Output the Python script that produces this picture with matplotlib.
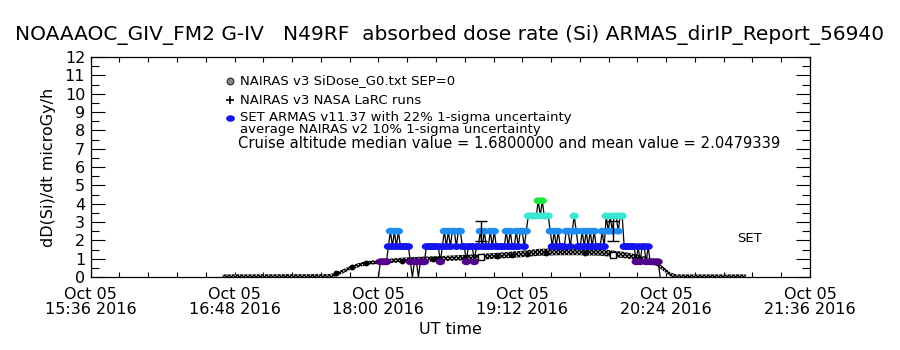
import numpy as np
import matplotlib
matplotlib.use("Agg")
import matplotlib.pyplot as plt
from matplotlib.ticker import MultipleLocator, FixedLocator

# ---------------- data ----------------
title = "NOAAAOC_GIV_FM2 G-IV   N49RF  absorbed dose rate (Si) ARMAS_dirIP_Report_56940"
y_label = "dD(Si)/dt microGy/h"
x_label = "UT time"
x_tick_minutes = [936, 1008, 1080, 1152, 1224, 1296]
x_tick_labels = ["Oct 05\n15:36 2016", "Oct 05\n16:48 2016", "Oct 05\n18:00 2016",
                 "Oct 05\n19:12 2016", "Oct 05\n20:24 2016", "Oct 05\n21:36 2016"]
y_ticks = list(range(0, 13))

# NAIRAS v3 SiDose_G0 model along flight (minutes of day UT, uGy/h)
nairas_minutes = [1002, 1056, 1061, 1066, 1071, 1076, 1082, 1091, 1101, 1111, 1121, 1131,
                  1141, 1151, 1161, 1171, 1181, 1191, 1198.5, 1203, 1208, 1214.5, 1219.5,
                  1222.5, 1226, 1229, 1264]
nairas_dose = [0.03, 0.05, 0.25, 0.5, 0.68, 0.78, 0.85, 0.92, 0.97, 1.0, 1.05, 1.1,
               1.17, 1.25, 1.35, 1.38, 1.38, 1.35, 1.25, 1.2, 1.1, 0.95, 0.7,
               0.45, 0.15, 0.03, 0.03]

# NAIRAS v3 NASA LaRC runs
larc_minutes = [1059, 1067, 1074, 1092, 1107.5, 1109.5, 1123.5, 1139.5, 1147, 1154.5, 1164, 1183.5, 1197.5]
larc_dose = [0.2, 0.55, 0.75, 0.88, 0.96, 0.97, 1.05, 1.15, 1.2, 1.27, 1.33, 1.32, 1.2]

# SET ARMAS quantized dose-rate levels (1-min cadence starting 18:00 UT)
armas_start_minute = 1080
armas_dose_steps = [0.0, 0.83, 1.66, 2.5, 3.33, 4.16]
armas_level = [0, 1, 1, 1, 1, 2, 3, 2, 3, 2,
               3, 2, 2, 2, 2, 2, 1, 0, 1, 1,
               0, 1, 1, 1, 2, 2, 2, 2, 2, 2,
               2, 1, 2, 3, 2, 3, 2, 3, 3, 2,
               3, 3, 2, 2, 1, 2, 2, 2, 1, 2,
               2, 3, 2, 3, 2, 2, 3, 2, 3, 2,
               2, 2, 2, 2, 3, 2, 3, 2, 2, 3,
               2, 3, 3, 2, 3, 4, 4, 4, 4, 4,
               5, 4, 5, 4, 4, 4, 3, 2, 3, 2,
               3, 2, 2, 2, 3, 3, 2, 3, 4, 3,
               2, 2, 3, 2, 3, 2, 3, 2, 3, 2,
               2, 2, 3, 2, 4, 3, 4, 3, 4, 4,
               3, 4, 4, 2, 2, 2, 2, 2, 2, 1,
               2, 1, 2, 2, 1, 2, 1, 1, 1, 1,
               1, 0]
level_colors = ["#000000", "#52008c", "#1414ee", "#1e8cf0", "#3ce6d2", "#1ee63c"]

# averaged ARMAS with 22% 1-sigma and NAIRAS reference point
errbar_minutes = [1131.5, 1197.5]
errbar_center = [2.5, 2.5]
errbar_sigma = [0.55, 0.55]
errbar_nairas = [1.1, 1.2]

legend_lines = ["NAIRAS v3 SiDose_G0.txt SEP=0",
                "NAIRAS v3 NASA LaRC runs",
                "SET ARMAS v11.37 with 22% 1-sigma uncertainty",
                "average NAIRAS v2 10% 1-sigma uncertainty",
                "Cruise altitude median value = 1.6800000 and mean value = 2.0479339"]
set_label = "SET"

# ---------------- plot ----------------
plt.rcParams['font.family'] = ['DejaVu Sans']
plt.rcParams['hatch.linewidth'] = 1.0
fig = plt.figure(figsize=(9, 3.5), dpi=100)
ax = fig.add_axes([90.7 / 900, 1 - 277 / 350, (810 - 90.7) / 900, 220 / 350])

ax.set_xlim(x_tick_minutes[0], x_tick_minutes[-1])
ax.set_ylim(0, 12)

# NAIRAS band (checkered)
nm = np.array(nairas_minutes, float)
nd = np.array(nairas_dose, float)
half = np.maximum(0.14 * nd, 0.11)
ax.fill_between(nm, nd - half, nd + half, facecolor="#d8d8d8", edgecolor="black",
                hatch="xxxxxxxx", linewidth=0, zorder=2)

# LaRC runs
ax.plot(larc_minutes, larc_dose, ls="none", marker="o", ms=3.2, color="black", zorder=4)

# ARMAS series
lev = np.array(armas_level)
am = armas_start_minute + np.arange(len(lev))
ad = np.array(armas_dose_steps)[lev]
ax.plot(am, ad, color="black", lw=0.9, zorder=3)
theta = np.linspace(0, 2 * np.pi, 40)
ell = list(zip(1.35 * np.cos(theta), np.sin(theta)))
nz = lev > 0
cols = [level_colors[l] for l in lev[nz]]
ax.scatter(am[nz], ad[nz], marker=ell, s=44, c=cols, linewidths=0, zorder=5)

# error bars
ax.errorbar(errbar_minutes, errbar_center, yerr=errbar_sigma, fmt="none", ecolor="black",
            elinewidth=1, capsize=4, capthick=1, zorder=6)
ax.plot(errbar_minutes, errbar_nairas, ls="none", marker="s", ms=5, mfc="white",
        mec="black", mew=1, zorder=6)

# axes style
ax.xaxis.set_major_locator(FixedLocator(x_tick_minutes))
ax.xaxis.set_minor_locator(MultipleLocator(14.4))
ax.set_xticklabels(x_tick_labels, fontsize=11.5, linespacing=1.0)
ax.yaxis.set_major_locator(FixedLocator(y_ticks))
ax.yaxis.set_minor_locator(MultipleLocator(0.5))
ax.set_yticklabels([str(v) for v in y_ticks], fontsize=11.5)
ax.tick_params(axis="x", which="both", direction="in", top=True, bottom=True,
               length=3.6, width=0.8, pad=7)
ax.tick_params(axis="y", which="major", direction="in", left=True, right=True,
               length=10, width=0.8, pad=4)
ax.tick_params(axis="y", which="minor", direction="in", left=True, right=True,
               length=6, width=0.8)
for s in ax.spines.values():
    s.set_linewidth(0.9)

ax.set_xlabel(x_label, fontsize=11.5, labelpad=4)
ax.set_ylabel(y_label, fontsize=11.5, labelpad=6)
fig.suptitle(title, x=0.5, y=1 - 35 / 350, fontsize=14.5, va="center")

# manual legend
tr = ax.transAxes
leg_y = [(277 - y) / 220 for y in (81, 100, 118, 130, 144)]
sx = (230 - 90.7) / 719.3
tx = (240 - 90.7) / 719.3
ax.plot([sx], [leg_y[0]], transform=tr, marker="o", ms=5, mfc="#888888", mec="black",
        mew=0.6, ls="none", clip_on=False)
ax.plot([sx], [leg_y[1]], transform=tr, marker="+", ms=6, color="black", mew=1.2,
        ls="none", clip_on=False)
ax.scatter([sx], [leg_y[2]], transform=tr, marker=ell, s=40, c=[level_colors[2]],
           linewidths=0, clip_on=False)
leg_sizes = [9.5, 9.5, 9.5, 9.5, 10.6]
for i, t in enumerate(legend_lines):
    ax.text(tx if i < 4 else tx - 0.003, leg_y[i], t, transform=tr, fontsize=leg_sizes[i],
            va="center", ha="left")

ax.text((737 - 90.7) / 719.3, (277 - 238) / 220, set_label, transform=tr, fontsize=9.5,
        va="center", ha="left")

fig.savefig("out.png", dpi=100)
